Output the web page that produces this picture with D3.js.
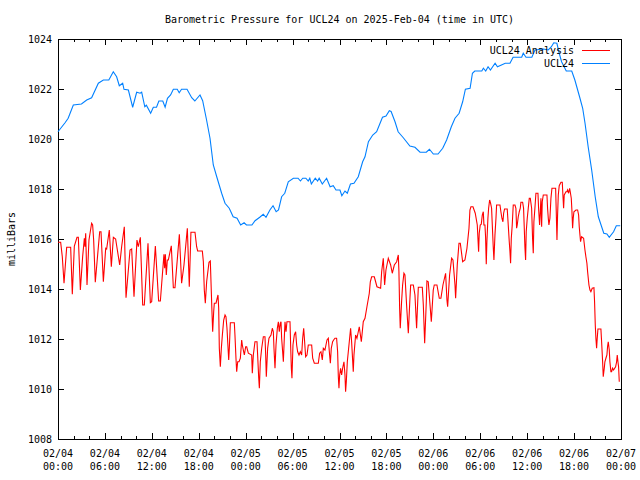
<!DOCTYPE html>
<html><head><meta charset="utf-8">
<script src="https://cdn.jsdelivr.net/npm/d3@7"></script>
<style>
html,body{margin:0;padding:0;background:#fff;}
svg{display:block;}
text{font-family:"DejaVu Sans Mono",monospace;font-size:10px;fill:#000;}
</style></head><body>
<svg id="chart" width="640" height="480"></svg>
<script>
// ---------- data ----------
const titleText = "Barometric Pressure for UCL24 on 2025-Feb-04 (time in UTC)";
const yAxisLabel = "milliBars";
const seriesNames = ["UCL24 Analysis", "UCL24"];
const seriesColors = ["#ff0000", "#0080ff"];
const startTime = Date.UTC(2025, 1, 4, 0, 0);
const endTime = Date.UTC(2025, 1, 7, 0, 0);
const yTicks = [1008, 1010, 1012, 1014, 1016, 1018, 1020, 1022, 1024];
const xMajorHours = [0, 6, 12, 18, 24, 30, 36, 42, 48, 54, 60, 66, 72];
const xMinorHours = [2, 4, 8, 10, 14, 16, 20, 22, 26, 28, 32, 34, 38, 40, 44, 46, 50, 52, 56, 58, 62, 64, 68, 70];

// hours since 02/04 00:00 UTC, pressure (mb) -- UCL24 Analysis
const analysisHours = [
0.0,0.34,0.55,0.77,1.02,1.11,1.62,1.83,2.09,2.43,2.6,2.86,3.15,3.37,3.45,3.54,3.71,3.96,4.3,4.43,4.56,4.77,4.99,5.33,5.5,5.8,6.1,6.22,6.56,6.82,7.08,7.37,7.89,8.14,8.48,8.7,9.21,9.42,9.72,10.1,10.27,10.53,10.83,11.04,11.51,11.81,11.98,12.45,12.87,13.09,13.55,13.64,13.73,13.85,13.98,14.11,14.49,14.75,14.96,15.52,15.81,16.11,16.54,16.79,17.0,17.52,17.73,
17.86,18.46,18.59,18.71,18.84,19.01,19.31,19.48,19.69,19.78,19.91,19.99,20.21,20.46,20.55,20.63,20.76,20.89,21.02,21.19,21.36,21.48,21.61,21.83,21.91,22.04,22.55,22.63,22.76,22.85,22.98,23.15,23.32,23.49,23.57,23.83,24.0,24.13,24.34,24.77,24.85,24.98,25.19,25.45,25.53,25.66,25.75,25.87,26.05,26.26,26.47,26.56,26.64,26.73,26.81,26.98,27.24,27.41,27.54,27.62,27.75,27.88,28.05,28.18,28.3,28.43,28.52,28.6,28.73,28.82,28.94,29.03,29.16,29.28,29.67,29.75,29.84,29.92,30.05,30.22,30.39,30.52,30.65,30.82,30.99,31.16,31.29,31.42,31.54,31.67,31.84,32.01,32.23,32.44,32.57,32.78,33.29,33.46,33.63,33.8,33.93,34.14,34.27,34.4,34.57,34.7,34.83,34.95,35.12,35.25,
35.42,35.63,35.76,35.85,35.93,36.02,36.14,36.27,36.4,36.57,36.7,36.78,36.87,37.0,37.21,37.42,37.55,37.76,37.85,38.06,38.23,38.4,38.53,38.79,39.04,39.26,39.51,39.81,39.94,40.11,40.45,40.62,40.79,41.26,41.39,41.6,41.77,41.94,42.24,42.54,42.75,43.01,43.31,43.52,43.6,43.69,43.77,43.94,44.07,44.24,44.37,44.58,44.8,45.01,45.1,45.44,45.65,45.86,46.08,46.59,46.72,46.89,47.1,47.18,47.35,47.61,47.74,47.99,48.12,48.46,48.76,48.97,49.23,49.57,49.74,49.83,50.08,50.34,50.51,50.77,50.85,51.06,51.28,51.45,51.75,52.04,52.3,52.56,52.68,52.81,53.07,53.36,53.62,53.79,
53.87,54.0,54.13,54.26,54.39,54.47,54.6,54.68,54.77,54.85,54.98,55.07,55.2,55.32,55.45,55.54,55.66,55.75,55.88,56.01,56.09,56.52,56.64,56.77,56.9,56.99,57.11,57.45,57.58,57.71,57.8,57.88,57.97,58.09,58.22,58.44,58.56,58.65,58.73,58.86,58.99,59.12,59.2,59.42,59.54,59.63,59.71,59.8,59.88,60.01,60.14,60.27,60.4,60.57,60.69,60.78,60.86,60.99,61.12,61.38,61.46,61.59,61.67,61.76,61.85,61.93,62.06,62.53,62.61,62.7,62.78,62.91,63.04,63.17,63.64,63.72,63.81,63.89,63.98,64.1,64.32,64.49,64.57,64.66,64.74,64.96,65.08,65.17,65.3,65.43,65.51,65.64,65.72,65.81,65.89,65.98,66.24,66.45,66.58,66.66,66.75,66.83,66.96,67.22,67.39,67.51,67.64,67.73,67.9,68.03,68.15,68.32,68.54,68.62,68.71,68.79,68.88,68.96,69.05,69.43,69.52,69.65,69.73,69.86,69.94,70.07,70.2,70.28,70.37,70.5,70.58,70.71,70.8,70.92,71.05,71.31,71.44,71.52,71.61,71.69,71.78
];
const analysisValues = [
1015.87,1015.87,1015.29,1014.23,1015.29,1015.67,1015.67,1013.79,1015.72,1016.07,1016.07,1013.96,1015.29,1016.03,1015.69,1016.23,1014.16,1015.96,1016.63,1016.56,1015.96,1014.27,1015.07,1016.29,1016.29,1014.29,1015.63,1015.6,1016.36,1014.89,1016.07,1016.0,1014.96,1015.69,1016.49,1013.65,1015.56,1015.6,1013.69,1015.96,1015.69,1016.07,1013.36,1013.36,1015.83,1013.45,1013.49,1015.72,1013.52,1013.52,1015.39,1014.83,1015.39,1014.56,1015.16,1015.16,1015.73,1014.05,1014.05,1016.19,1014.23,1014.96,1016.43,1014.09,1016.27,1016.27,1015.69,
1015.52,1015.52,1015.09,1013.96,1013.43,1014.29,1015.07,1015.12,1013.09,1012.29,1013.09,1013.43,1013.43,1013.76,1013.23,1011.63,1010.89,1011.63,1012.16,1012.76,1012.96,1012.89,1012.43,1011.16,1011.63,1012.65,1012.65,1012.16,1011.23,1010.69,1011.09,1011.09,1011.23,1011.96,1011.76,1011.36,1011.69,1011.69,1011.43,1011.36,1010.63,1011.36,1011.89,1011.89,1011.36,1010.49,1010.03,1011.09,1011.63,1012.09,1012.09,1011.36,1010.49,1011.09,1011.63,1012.03,1012.16,1012.43,1012.29,1011.63,1010.83,1011.76,1012.43,1012.69,1012.29,1012.63,1012.69,1012.03,1011.49,1011.09,1012.03,1012.69,1012.29,1012.69,1012.69,1011.76,1010.83,1010.43,1011.76,1012.16,1012.29,1011.76,1011.49,1011.36,1011.49,1011.36,1012.03,1012.43,1011.89,1011.29,1011.36,1011.76,1011.76,1011.76,1011.23,1011.03,1011.03,1011.43,1011.49,1011.16,1011.63,1011.56,1011.76,1011.96,1012.03,1011.49,1011.03,1011.63,1011.89,1011.96,
1012.03,1012.03,1011.49,1010.49,1010.03,1010.56,1010.83,1010.56,1010.83,1011.09,1010.56,1009.89,1010.29,1011.09,1011.76,1012.43,1011.89,1010.69,1011.36,1012.16,1012.03,1012.29,1012.49,1011.89,1012.69,1012.83,1013.29,1013.83,1014.29,1014.49,1014.49,1014.29,1014.09,1014.03,1014.69,1015.23,1014.16,1014.76,1015.23,1014.96,1014.63,1014.96,1015.09,1015.36,1014.69,1013.23,1012.43,1013.49,1014.16,1014.63,1014.56,1013.36,1012.23,1013.63,1014.16,1014.16,1013.76,1012.43,1014.07,1014.07,1013.36,1011.83,1013.49,1014.32,1014.29,1013.23,1012.69,1013.96,1014.16,1014.16,1013.63,1013.63,1014.16,1014.63,1013.56,1013.29,1014.56,1015.23,1015.16,1014.16,1013.63,1014.96,1015.83,1015.83,1015.09,1015.16,1015.63,1016.43,1017.16,1017.29,1017.29,1017.03,1016.56,1015.49,
1016.23,1016.56,1016.59,1016.96,1017.09,1016.56,1016.56,1016.09,1014.99,1015.89,1016.83,1017.23,1017.56,1017.43,1017.23,1016.56,1015.69,1015.16,1016.16,1016.83,1017.36,1017.36,1017.09,1016.83,1016.69,1017.03,1017.2,1017.2,1016.56,1015.89,1015.49,1015.03,1016.03,1016.56,1017.36,1017.36,1017.23,1016.43,1016.56,1016.89,1017.09,1017.23,1017.47,1017.47,1017.23,1016.43,1015.69,1015.16,1016.29,1016.83,1017.23,1017.63,1017.63,1017.23,1016.03,1015.43,1016.69,1017.23,1017.83,1017.83,1017.23,1016.56,1017.03,1017.63,1016.49,1017.49,1017.76,1017.76,1017.23,1016.83,1016.56,1016.83,1017.63,1018.03,1018.03,1017.09,1015.96,1016.96,1017.76,1018.13,1018.27,1018.27,1017.76,1017.23,1017.76,1017.89,1017.89,1017.96,1017.83,1018.03,1017.89,1017.63,1017.16,1016.43,1016.83,1017.09,1017.16,1017.16,1016.96,1016.49,1016.16,1015.89,1016.09,1016.03,1015.56,1015.29,1015.03,1014.69,1014.16,1013.96,1013.89,1014.03,1014.05,1013.49,1012.56,1012.03,1011.63,1012.03,1012.4,1012.4,1011.89,1011.09,1010.49,1010.83,1011.09,1011.23,1011.36,1011.69,1011.89,1011.56,1011.09,1010.69,1010.69,1010.83,1010.76,1010.89,1011.09,1011.36,1011.09,1010.89,1010.29
];

// hours since 02/04 00:00 UTC, pressure (mb) -- UCL24 station
const stationHours = [
0,0.9,1.3,1.96,3.0,3.67,4.3,5.16,5.8,6.5,7.07,7.5,7.84,8.27,8.44,9.0,9.55,10.06,10.5,10.7,11.1,11.3,11.85,12.19,12.6,12.9,13.4,13.7,14.0,14.4,14.75,15.25,15.5,15.8,16.5,17.1,17.5,18.16,18.5,19.0,19.44,19.86,20.3,20.93,21.36,21.9,22.4,22.9,23.36,23.8,24.1,24.8,25.2,25.8,26.25,26.6,27.1,27.5,27.9,28.2,28.6,29.0,29.45,30.1,30.7,31.0,31.3,31.7,32.0,32.2,32.4,32.9,33.2,33.4,33.8,34.35,34.8,35.2,35.55,36.06,36.3,36.7,37.0,37.4,37.85,38.4,38.96,39.26,39.7,40.25,40.75,41.5,41.95,42.37,42.6,43.1,43.5,44.16,45.0,45.65,46.3,47.1,47.5,48.0,48.6,49.2,49.7,50.3,50.77,51.3,51.75,52.1,52.7,53.0,53.3,54.2,54.4,54.7,55.0,55.3,55.9,56.2,57.2,57.8,58.2,59.3,59.5,59.85,60.6,61.0,62.1,62.7,63.1,63.4,63.8,64.1,64.4,65.0,65.7,66.1,66.7,67.1,67.4,67.8,68.25,68.7,69.1,69.8,70.2,70.5,71.05,71.4,71.9
];
const stationValues = [
1020.29,1020.65,1020.83,1021.36,1021.4,1021.56,1021.65,1022.23,1022.36,1022.36,1022.69,1022.49,1022.13,1022.23,1021.99,1021.96,1021.27,1021.87,1021.83,1021.87,1021.29,1021.35,1021.03,1021.27,1021.27,1021.52,1021.52,1021.27,1021.63,1021.76,1021.99,1021.99,1021.85,1021.99,1021.99,1021.65,1021.52,1021.76,1021.53,1020.76,1020.03,1018.96,1018.49,1017.83,1017.43,1017.23,1016.89,1016.83,1016.56,1016.65,1016.56,1016.56,1016.73,1016.87,1016.99,1016.87,1017.16,1017.33,1017.09,1017.16,1017.69,1017.83,1018.29,1018.43,1018.43,1018.32,1018.43,1018.43,1018.32,1018.43,1018.2,1018.43,1018.32,1018.43,1018.2,1018.43,1018.09,1018.13,1017.96,1017.96,1017.73,1017.92,1017.83,1018.2,1018.23,1018.49,1019.09,1019.29,1019.89,1020.16,1020.29,1020.87,1020.92,1021.13,1021.1,1020.69,1020.29,1020.05,1019.72,1019.67,1019.47,1019.47,1019.59,1019.4,1019.4,1019.63,1019.96,1020.49,1020.83,1021.03,1021.49,1021.99,1022.03,1022.63,1022.72,1022.72,1022.83,1022.72,1022.89,1022.76,1023.03,1022.89,1023.03,1023.03,1023.27,1023.27,1023.43,1023.27,1023.27,1023.56,1023.6,1023.56,1023.69,1023.85,1023.83,1023.43,1023.09,1022.72,1022.72,1022.36,1021.69,1021.23,1020.63,1019.69,1018.76,1017.69,1016.89,1016.23,1016.2,1016.07,1016.29,1016.53,1016.53
];

// ---------- chart ----------
const HOUR = 3600 * 1000;
const margin = {left: 58, right: 19, top: 39, bottom: 41};
const W = 640, H = 480;
const svg = d3.select("#chart");

const x = d3.scaleUtc().domain([new Date(startTime), new Date(endTime)]).range([margin.left, W - margin.right]);
const y = d3.scaleLinear().domain([1008, 1024]).range([H - margin.bottom, margin.top]);

const toDate = h => new Date(startTime + h * HOUR);
const fmtDate = d3.utcFormat("%m/%d");
const fmtTime = d3.utcFormat("%H:%M");

// axes (ticks inward, mirrored)
const axisG = svg.append("g").attr("shape-rendering", "crispEdges");
function styleAxis(g) {
  g.select(".domain").remove();
  g.selectAll(".tick line").attr("stroke", "#000");
}
axisG.append("g").attr("transform", `translate(0,${y(1008)})`)
  .call(d3.axisBottom(x).tickValues(xMajorHours.map(toDate)).tickSizeInner(-6).tickSizeOuter(0).tickFormat(""))
  .call(styleAxis);
axisG.append("g").attr("transform", `translate(0,${y(1008)})`)
  .call(d3.axisBottom(x).tickValues(xMinorHours.map(toDate)).tickSizeInner(-3).tickSizeOuter(0).tickFormat(""))
  .call(styleAxis);
axisG.append("g").attr("transform", `translate(0,${y(1024)})`)
  .call(d3.axisTop(x).tickValues(xMajorHours.map(toDate)).tickSizeInner(-6).tickSizeOuter(0).tickFormat(""))
  .call(styleAxis);
axisG.append("g").attr("transform", `translate(0,${y(1024)})`)
  .call(d3.axisTop(x).tickValues(xMinorHours.map(toDate)).tickSizeInner(-3).tickSizeOuter(0).tickFormat(""))
  .call(styleAxis);
axisG.append("g").attr("transform", `translate(${x.range()[0]},0)`)
  .call(d3.axisLeft(y).tickValues(yTicks).tickSizeInner(-6).tickSizeOuter(0).tickPadding(6).tickFormat(d3.format("d")))
  .call(styleAxis)
  .call(g => g.selectAll("text").attr("font-family", "DejaVu Sans Mono").attr("font-size", 10).attr("fill", "#000"));
axisG.append("g").attr("transform", `translate(${x.range()[1]},0)`)
  .call(d3.axisRight(y).tickValues(yTicks).tickSizeInner(-6).tickSizeOuter(0).tickFormat(""))
  .call(styleAxis);

// x tick labels (two lines)
const xl = svg.append("g");
xMajorHours.forEach(h => {
  const d = toDate(h);
  const t = xl.append("text").attr("text-anchor", "middle").attr("x", x(d));
  t.append("tspan").attr("x", x(d)).attr("y", 457).text(fmtDate(d));
  t.append("tspan").attr("x", x(d)).attr("y", 470).text(fmtTime(d));
});

// border
svg.append("rect")
  .attr("x", x.range()[0]).attr("y", y(1024))
  .attr("width", x.range()[1] - x.range()[0]).attr("height", y(1008) - y(1024))
  .attr("fill", "none").attr("stroke", "#000").attr("stroke-width", 1)
  .attr("shape-rendering", "crispEdges");

// series
const line = d3.line().x(d => x(d.t)).y(d => y(d.v));
const analysis = analysisHours.map((h, i) => ({t: toDate(h), v: analysisValues[i]}));
const station = stationHours.map((h, i) => ({t: toDate(h), v: stationValues[i]}));
svg.append("path").datum(analysis).attr("d", line)
  .attr("fill", "none").attr("stroke", seriesColors[0]).attr("stroke-width", 1.1);
svg.append("path").datum(station).attr("d", line)
  .attr("fill", "none").attr("stroke", seriesColors[1]).attr("stroke-width", 1.1);

// title & y label
svg.append("text").attr("x", (x.range()[0] + x.range()[1]) / 2).attr("y", 23)
  .attr("text-anchor", "middle").text(titleText);
svg.append("text").attr("transform", `translate(15,${(y(1008) + y(1024)) / 2}) rotate(-90)`)
  .attr("text-anchor", "middle").text(yAxisLabel);

// legend
const lg = svg.append("g");
seriesNames.forEach((name, i) => {
  const yy = 50 + i * 13;
  lg.append("text").attr("x", 574).attr("y", yy).attr("dy", "0.35em").attr("text-anchor", "end").text(name);
  lg.append("line").attr("x1", 582).attr("x2", 610).attr("y1", yy).attr("y2", yy)
    .attr("stroke", seriesColors[i]).attr("stroke-width", 1).attr("shape-rendering", "crispEdges");
});
</script>
</body></html>
